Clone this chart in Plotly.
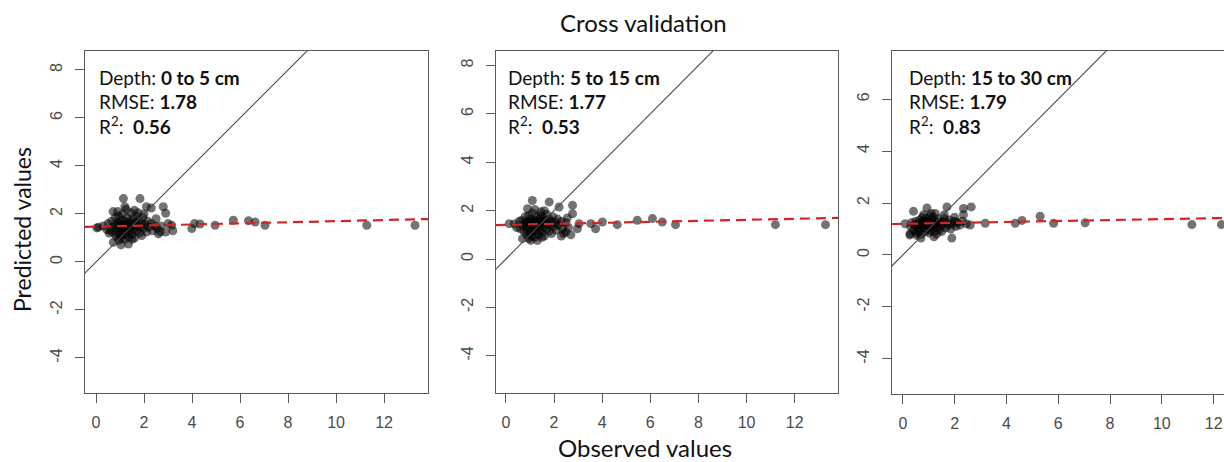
import plotly.graph_objects as go

W, H = 1224, 462

# ---------------- data ----------------
depths = ["0 to 5 cm", "5 to 15 cm", "15 to 30 cm"]
rmse = ["1.78", "1.77", "1.79"]
r2 = ["0.56", "0.53", "0.83"]

# regression (red dashed) line: intercept, slope
fit_intercept = [1.47, 1.41, 1.20]
fit_slope = [0.023, 0.021, 0.018]

obs1 = [1.14, 1.83, 1.2, 2.1, 2.8, 2.9, 0.71, 0.9, 2.3, 0.03, 0.1, 0.72, 1.04, 1.35, 2.6, 2.67, 3.2, 3.15, 2.9, 3.0,
        3.99, 4.1, 4.33, 4.96, 5.72, 6.35, 6.63, 7.04, 11.28, 13.29,
        0.3, 0.45, 0.5, 0.6, 0.65, 0.7, 0.75, 0.8, 0.8, 0.85, 0.85, 0.9, 0.9, 0.95, 0.95, 1.0, 1.0, 1.0, 1.05, 1.05,
        1.1, 1.1, 1.1, 1.15, 1.15, 1.2, 1.2, 1.2, 1.25, 1.25, 1.3, 1.3, 1.35, 1.35, 1.4, 1.4, 1.45, 1.45, 1.5, 1.5,
        1.55, 1.55, 1.6, 1.6, 1.65, 1.7, 1.7, 1.75, 1.8, 1.8, 1.85, 1.9, 1.9, 1.95, 2.0, 2.05, 2.1, 2.15, 2.2, 2.3,
        2.35, 2.45, 2.5, 2.55, 1.25, 1.6, 0.95, 1.5, 0.55, 1.75, 2.0, 2.7]
pred1 = [2.64, 2.64, 2.3, 2.3, 2.3, 2.03, 2.1, 2.1, 2.25, 1.42, 1.45, 0.82, 0.71, 0.75, 1.17, 1.26, 1.3, 1.53, 1.25, 1.6,
         1.39, 1.6, 1.58, 1.53, 1.74, 1.72, 1.66, 1.53, 1.53, 1.53,
         1.5, 1.35, 1.6, 1.3, 1.7, 1.45, 1.2, 1.55, 1.85, 1.05, 1.4, 1.65, 1.25, 1.5, 1.9, 1.1, 1.35, 1.6, 1.75, 1.0,
         1.45, 1.2, 2.0, 1.55, 1.3, 1.7, 0.95, 1.4, 1.6, 1.15, 1.85, 1.35, 1.5, 1.05, 1.7, 1.25, 1.45, 2.05, 1.6, 1.15,
         1.35, 1.8, 1.5, 1.0, 1.65, 1.3, 1.9, 1.5, 1.2, 1.7, 1.45, 1.6, 1.1, 1.85, 1.4, 1.55, 1.25, 1.7, 1.45, 1.6,
         1.3, 1.5, 1.8, 1.4, 2.2, 2.15, 0.9, 0.95, 1.2, 2.05, 2.0, 1.5]

obs2 = [1.1, 1.8, 2.77, 2.21, 0.9, 2.77, 1.45, 0.69, 1.04, 1.31, 2.49, 2.97, 3.04, 3.53, 3.73, 0.14, 2.7,
        4.01, 4.63, 5.46, 6.09, 6.5, 7.05, 11.2, 13.28,
        0.35, 0.45, 0.55, 0.6, 0.65, 0.7, 0.75, 0.8, 0.8, 0.85, 0.85, 0.9, 0.9, 0.95, 0.95, 1.0, 1.0, 1.0, 1.05, 1.05,
        1.1, 1.1, 1.1, 1.15, 1.15, 1.2, 1.2, 1.2, 1.25, 1.25, 1.3, 1.3, 1.35, 1.35, 1.4, 1.4, 1.45, 1.45, 1.5, 1.5,
        1.55, 1.55, 1.6, 1.6, 1.65, 1.7, 1.7, 1.75, 1.8, 1.8, 1.85, 1.9, 1.9, 1.95, 2.0, 2.05, 2.1, 2.15, 2.2, 2.3,
        2.35, 2.4, 2.5, 2.6, 1.2, 1.6, 0.95, 1.5, 2.3, 2.55]
pred2 = [2.42, 2.36, 2.22, 2.15, 2.08, 1.87, 1.8, 0.84, 0.77, 0.77, 1.12, 1.25, 1.46, 1.46, 1.25, 1.46, 1.0,
         1.53, 1.42, 1.6, 1.67, 1.53, 1.42, 1.42, 1.42,
         1.45, 1.3, 1.55, 1.25, 1.6, 1.4, 1.15, 1.5, 1.75, 1.0, 1.35, 1.55, 1.2, 1.45, 1.8, 1.05, 1.3, 1.55, 1.65, 0.95,
         1.4, 1.15, 1.9, 1.5, 1.25, 1.6, 0.9, 1.35, 1.55, 1.1, 1.75, 1.3, 1.45, 1.0, 1.65, 1.2, 1.4, 1.95, 1.55, 1.1,
         1.3, 1.7, 1.45, 0.95, 1.6, 1.25, 1.85, 1.45, 1.15, 1.65, 1.4, 1.55, 1.05, 1.75, 1.35, 1.5, 1.2, 1.65, 1.4, 1.55,
         1.25, 1.05, 1.5, 1.3, 2.05, 2.0, 0.85, 0.9, 0.95, 1.7]

obs3 = [0.41, 0.93, 1.7, 2.34, 2.64, 2.34, 1.89, 0.28, 0.27, 0.7, 0.09, 2.6, 3.18,
        4.34, 4.6, 5.3, 5.82, 7.04, 11.16, 12.3,
        0.3, 0.35, 0.4, 0.45, 0.5, 0.5, 0.55, 0.6, 0.6, 0.65, 0.65, 0.7, 0.7, 0.75, 0.75, 0.8, 0.8, 0.85, 0.85, 0.9,
        0.9, 0.95, 0.95, 1.0, 1.0, 1.0, 1.05, 1.05, 1.1, 1.1, 1.15, 1.15, 1.2, 1.2, 1.25, 1.25, 1.3, 1.3, 1.35, 1.4,
        1.4, 1.45, 1.5, 1.5, 1.55, 1.6, 1.65, 1.7, 1.75, 1.8, 1.85, 1.9, 2.0, 2.05, 2.1, 2.2, 2.3, 2.45, 0.55, 1.1,
        1.3, 1.6, 2.0, 0.8, 1.2]
pred3 = [1.68, 1.81, 1.85, 1.79, 1.85, 1.55, 0.65, 0.82, 0.77, 0.65, 1.2, 1.15, 1.22,
         1.22, 1.33, 1.49, 1.22, 1.24, 1.17, 1.17,
         1.1, 1.25, 0.95, 1.15, 1.3, 0.85, 1.05, 1.2, 0.9, 1.35, 1.0, 1.15, 0.8, 1.25, 1.45, 1.05, 1.3, 0.9, 1.2, 1.4,
         1.0, 1.15, 1.3, 0.85, 1.1, 1.25, 1.5, 0.95, 1.2, 1.35, 1.05, 1.45, 0.9, 1.15, 1.3, 1.6, 1.05, 1.2, 1.4, 0.95,
         1.25, 1.1, 1.3, 0.9, 1.2, 1.4, 1.05, 1.25, 1.15, 1.35, 1.0, 1.2, 1.3, 1.1, 1.25, 1.15, 1.3, 1.2, 0.75, 1.6,
         0.8, 1.55, 1.45, 1.55, 0.7]

observed = [obs1, obs2, obs3]
predicted = [pred1, pred2, pred3]

x_ticks = [0, 2, 4, 6, 8, 10, 12]
y_ticks = [[-4, -2, 0, 2, 4, 6, 8], [-4, -2, 0, 2, 4, 6, 8], [-4, -2, 0, 2, 4, 6]]

# ---------------- layout geometry (screen pixels) ----------------
x_ranges = [[-0.46, 13.83], [-0.41, 13.8], [-0.42, 12.4]]
y_ranges = [[-5.46, 8.79], [-5.54, 8.6], [-5.35, 7.85]]
px_left = [85, 496, 892]
px_right = [428, 838, 1224]
px_top = [51, 51, 51]
px_bot = [393, 393, 394]
text_x = [97, 506, 907]
text_y = [78, 102, 126]


def fx(p):
    return p / W


def fy(p):
    return 1 - p / H


AX_COL = "#5a5a5a"
TICK_FONT = dict(family="Liberation Sans, Arial, sans-serif", size=16, color="#4a4a4a")
TXT_FONT = "Lato, Carlito, Calibri, sans-serif"

fig = go.Figure()
annotations = []

for i in range(3):
    xa = "x" if i == 0 else f"x{i+1}"
    ya = "y" if i == 0 else f"y{i+1}"
    fig.add_trace(go.Scatter(x=observed[i], y=predicted[i], mode="markers", xaxis=xa, yaxis=ya,
                             marker=dict(size=9, color="rgba(0,0,0,0.55)", line=dict(width=0)),
                             showlegend=False, hoverinfo="skip"))
    lo = min(x_ranges[i][0], y_ranges[i][0])
    hi = max(x_ranges[i][1], y_ranges[i][1])
    fig.add_trace(go.Scatter(x=[lo, hi], y=[lo, hi], mode="lines", xaxis=xa, yaxis=ya,
                             line=dict(color="#4a4a4a", width=1.1), showlegend=False, hoverinfo="skip"))
    xr = x_ranges[i]
    fig.add_trace(go.Scatter(x=xr, y=[fit_intercept[i] + fit_slope[i] * v for v in xr], mode="lines",
                             xaxis=xa, yaxis=ya,
                             line=dict(color="#d42424", width=2.2, dash="10px,6px"),
                             showlegend=False, hoverinfo="skip"))

    dom_x = [fx(px_left[i]), min(1.0, fx(px_right[i]))]
    dom_y = [fy(px_bot[i]), fy(px_top[i])]
    xkey = "xaxis" if i == 0 else f"xaxis{i+1}"
    ykey = "yaxis" if i == 0 else f"yaxis{i+1}"
    fig.layout[xkey] = dict(domain=dom_x, range=x_ranges[i], anchor=ya, tickmode="array", tickvals=x_ticks,
                            ticktext=[str(v) for v in x_ticks],
                            showgrid=False, zeroline=False, showline=True, linecolor=AX_COL, linewidth=1.3,
                            mirror=True, ticks="outside", ticklen=9, tickcolor=AX_COL, tickwidth=1.3,
                            tickfont=TICK_FONT, ticklabelstandoff=6, ticklabeloverflow="allow")
    fig.layout[ykey] = dict(domain=dom_y, range=y_ranges[i], anchor=xa, tickmode="array", tickvals=y_ticks[i],
                            ticktext=[str(v) for v in y_ticks[i]],
                            showgrid=False, zeroline=False, showline=True, linecolor=AX_COL, linewidth=1.3,
                            mirror=(i < 2), ticks="outside", ticklen=9, tickcolor=AX_COL, tickwidth=1.3,
                            tickfont=TICK_FONT, tickangle=-90, ticklabelstandoff=6)

    lines = [f"Depth: <b>{depths[i]}</b>", f"RMSE: <b>{rmse[i]}</b>", f"R<sup>2</sup>:  <b>{r2[i]}</b>"]
    for j, t in enumerate(lines):
        annotations.append(dict(text=t, xref="paper", yref="paper", x=fx(text_x[i]), y=fy(text_y[j]),
                                xanchor="left", yanchor="middle", showarrow=False,
                                font=dict(family=TXT_FONT, size=19, color="#111111")))

annotations.append(dict(text="Cross validation", xref="paper", yref="paper", x=fx(643), y=fy(22),
                        xanchor="center", yanchor="middle", showarrow=False,
                        font=dict(family=TXT_FONT, size=24, color="#111111")))
annotations.append(dict(text="Observed values", xref="paper", yref="paper", x=fx(645), y=fy(447),
                        xanchor="center", yanchor="middle", showarrow=False,
                        font=dict(family=TXT_FONT, size=24, color="#111111")))
annotations.append(dict(text="Predicted values", xref="paper", yref="paper", x=fx(22), y=fy(230),
                        xanchor="center", yanchor="middle", showarrow=False, textangle=-90,
                        font=dict(family=TXT_FONT, size=23, color="#111111")))

fig.update_layout(width=W, height=H, margin=dict(l=0, r=0, t=0, b=0),
                  paper_bgcolor="white", plot_bgcolor="white", annotations=annotations)

# remove the page's default body margin so the figure fills the window exactly
fig.write_html("out.html", config={"displayModeBar": False},
               post_script="document.body.style.margin='0px';document.body.style.overflow='hidden';")
